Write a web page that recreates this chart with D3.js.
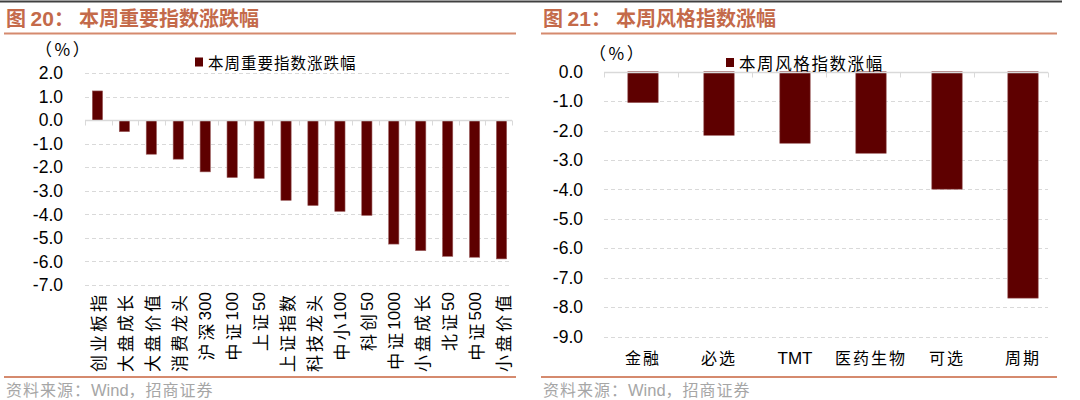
<!DOCTYPE html>
<html><head><meta charset="utf-8">
<script src="https://cdn.jsdelivr.net/npm/d3@7"></script>
<style>
html,body{margin:0;padding:0;background:#fff;}
svg{display:block;}
</style></head>
<body>
<svg id="c" width="1080" height="400"></svg>
<script>
// ---- data ----
const leftTitle = "图 20：本周重要指数涨跌幅";
const leftLegend = "本周重要指数涨跌幅";
const leftCategories = ["创业板指","大盘成长","大盘价值","消费龙头","沪深300","中证100","上证50","上证指数","科技龙头","中小100","科创50","中证1000","小盘成长","北证50","中证500","小盘价值"];
const leftValues = [1.25,-0.48,-1.44,-1.65,-2.19,-2.43,-2.47,-3.40,-3.62,-3.87,-4.04,-5.26,-5.54,-5.78,-5.82,-5.89];
const leftTicks = [2,1,0,-1,-2,-3,-4,-5,-6,-7];

const rightTitle = "图 21：本周风格指数涨幅";
const rightLegend = "本周风格指数涨幅";
const rightCategories = ["金融","必选","TMT","医药生物","可选","周期"];
const rightValues = [-1.05,-2.16,-2.43,-2.77,-3.99,-7.69];
const rightTicks = [0,-1,-2,-3,-4,-5,-6,-7,-8,-9];

const unitLabel = "（%）";
const sourceText = "资料来源：Wind，招商证券";

// ---- styles ----
const CJK = "'Noto Sans CJK SC','Noto Sans',sans-serif";
const LAT = "'Liberation Sans',Arial,sans-serif";
const titleColor = "#C46A4A";
const ruleColor = "#D58A6E";
const barColor = "#5E0000";
const gridColor = "#D9D9D9";

const svg = d3.select("#c");

// top dark rule
svg.append("line").attr("x1",0).attr("x2",1062).attr("y1",1.5).attr("y2",1.5)
  .attr("stroke","#404040").attr("stroke-width",2);

function runs(str){ return str.match(/[\x00-\x7f]+|[^\x00-\x7f]+/g); }
function mixedText(sel, str, size, cjkSpacing, latSize){
  runs(str).forEach(r=>{
    const ascii = /^[\x00-\x7f]+$/.test(r);
    sel.append("tspan").text(r)
      .attr("font-family", ascii?LAT:CJK)
      .attr("font-size", ascii?(latSize||size):size)
      .style("letter-spacing", (ascii?0:cjkSpacing)+"px");
  });
}

function panel(o){
  const g = svg.append("g");
  // title
  const t = g.append("text").attr("x",o.tx).attr("y",26).attr("fill",titleColor)
    .attr("font-weight","bold").attr("font-family",CJK).attr("font-size",20);
  const parts = o.title.split("：");
  t.append("tspan").text(parts[0].split(" ")[0]+" ");
  t.append("tspan").text(parts[0].split(" ")[1]).attr("font-family",LAT).attr("font-size",21);
  t.append("tspan").text("：");
  t.append("tspan").text(parts[1]).attr("dx",5);
  // rules
  g.append("line").attr("x1",o.r0).attr("x2",o.r1).attr("y1",33.5).attr("y2",33.5)
    .attr("stroke",ruleColor).attr("stroke-width",2);
  g.append("line").attr("x1",o.r0).attr("x2",o.r1).attr("y1",377).attr("y2",377)
    .attr("stroke",ruleColor).attr("stroke-width",2);
  // source
  const s = g.append("text").attr("x",o.r0+2).attr("y",396).attr("fill","#A6A6A6");
  mixedText(s, sourceText, 16, 1, 16.5);

  const x = d3.scaleBand().domain(o.cats).range([o.x0,o.x1]);
  const y = d3.scaleLinear().domain(o.ydom).range(o.yrange);

  // gridlines
  g.append("g").selectAll("line").data(o.ticks.filter(d=>d!==0)).join("line")
    .attr("x1",o.gx0).attr("x2",o.gx1).attr("y1",d=>Math.round(y(d))+0.5).attr("y2",d=>Math.round(y(d))+0.5)
    .attr("stroke",gridColor).attr("stroke-dasharray","4,3").attr("stroke-width",1);

  // y axis labels
  const ya = g.append("g").attr("transform",`translate(${o.gx0},0)`)
    .call(d3.axisLeft(y).tickValues(o.ticks).tickFormat(d=>d.toFixed(1)).tickSize(0).tickPadding(o.gx0-o.labelRight));
  ya.select(".domain").remove();
  ya.selectAll("text").attr("font-family",LAT).attr("font-size",17.5).attr("fill","#000");

  // bars
  const bw = x.bandwidth()*o.barRatio;
  g.append("g").selectAll("rect").data(o.vals).join("rect")
    .attr("x",(d,i)=>x(o.cats[i])+(x.bandwidth()-bw)/2)
    .attr("width",bw)
    .attr("y",d=>Math.min(y(d),y(0)))
    .attr("height",d=>Math.abs(y(d)-y(0)))
    .attr("fill",barColor).attr("stroke","#9a5a5a").attr("stroke-width",0.6);

  // zero axis line with boundary ticks
  const z = Math.round(y(0))+0.5;
  g.append("line").attr("x1",o.gx0).attr("x2",o.gx1).attr("y1",z).attr("y2",z)
    .attr("stroke",gridColor).attr("stroke-width",1.5);
  const step = (o.gx1-o.gx0)/o.cats.length;
  const bounds = d3.range(o.cats.length+1).map(i=>o.gx0+i*step);
  g.append("g").selectAll("line").data(bounds).join("line")
    .attr("x1",d=>Math.round(d)+0.5).attr("x2",d=>Math.round(d)+0.5).attr("y1",z).attr("y2",z+5)
    .attr("stroke",gridColor).attr("stroke-width",1);

  // unit label
  g.append("text").attr("x",o.ux).attr("y",o.uy).attr("font-family",CJK).attr("font-size",17)
    .style("letter-spacing","2.5px").attr("fill","#000").text(unitLabel);

  // legend
  g.append("rect").attr("x",o.lx).attr("y",o.ly-4.5).attr("width",8).attr("height",9).attr("fill",barColor);
  g.append("text").attr("x",o.lx+13).attr("y",o.ly).attr("dominant-baseline","central")
    .attr("font-family",CJK).attr("font-size",o.lsize).style("letter-spacing",o.lsp+"px").attr("fill","#000").text(o.legend);

  // x labels
  if(o.vertical){
    g.append("g").selectAll("text").data(o.cats).join("text")
      .attr("transform",d=>`translate(${x(d)+x.bandwidth()/2},292) rotate(-90)`)
      .attr("text-anchor","end").attr("dominant-baseline","central").attr("fill","#000")
      .each(function(d){ mixedText(d3.select(this), d, 17, 3, 17); });
  } else {
    g.append("g").selectAll("text").data(o.cats).join("text")
      .attr("x",d=>x(d)+x.bandwidth()/2).attr("y",364).attr("text-anchor","middle").attr("fill","#000")
      .each(function(d){ mixedText(d3.select(this), d, 16, 2, 17); });
  }
}

panel({title:leftTitle, legend:leftLegend, cats:leftCategories, vals:leftValues,
  ticks:leftTicks, ydom:[-7,2], yrange:[285,73.3], x0:84, x1:515, gx0:85, gx1:512, labelRight:63, barRatio:0.38,
  tx:6, r0:4, r1:516, ux:35, uy:56, lx:195, ly:62, lsize:15.5, lsp:1, vertical:true});

panel({title:rightTitle, legend:rightLegend, cats:rightCategories, vals:rightValues,
  ticks:rightTicks, ydom:[-9,0], yrange:[336.7,71.7], x0:605, x1:1061, gx0:604, gx1:1048, labelRight:583, barRatio:0.4,
  tx:543, r0:541, r1:1057, ux:589, uy:60, lx:726, ly:62.5, lsize:16.5, lsp:1.6, vertical:false});
</script>
</body></html>
